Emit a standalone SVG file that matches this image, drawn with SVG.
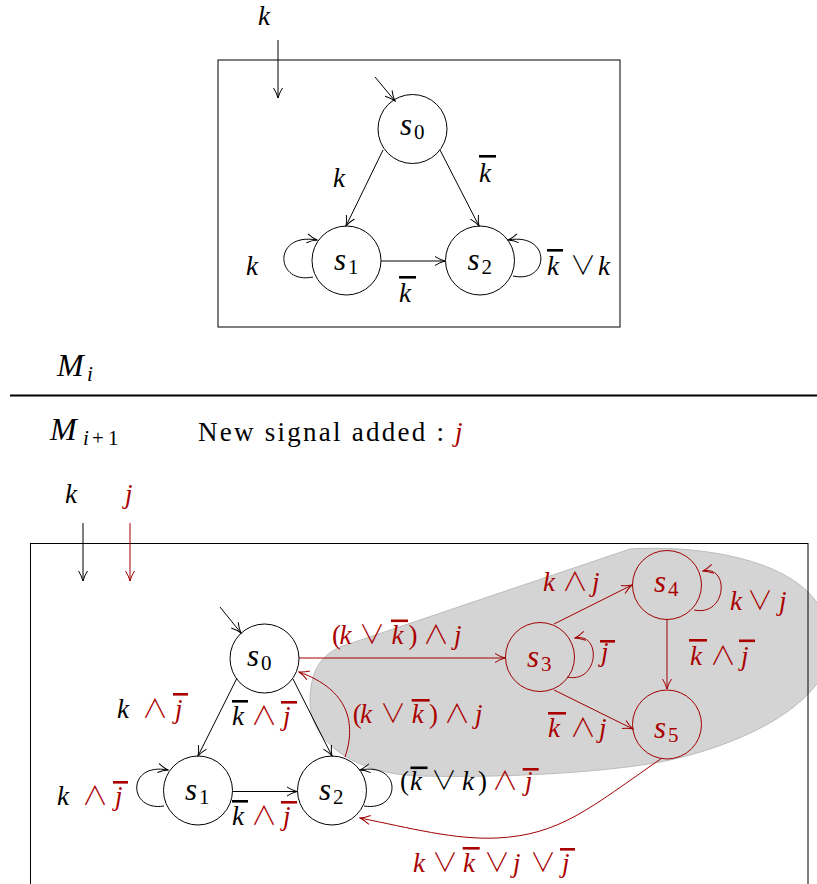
<svg xmlns="http://www.w3.org/2000/svg" width="817" height="884" viewBox="0 0 817 884">
<defs>
<style>
.m{font-family:"Liberation Serif","DejaVu Serif",serif;font-style:italic;font-size:27px}
.up{font-style:normal}
.op{font-family:"Noto Sans CJK JP","DejaVu Sans",sans-serif;font-style:normal;font-weight:300;font-size:26px}
.sub{font-family:"Liberation Serif",serif;font-style:normal;font-size:21px}
.nd{font-family:"Liberation Serif",serif;font-style:italic;font-size:31px}
.rm{font-family:"Liberation Serif",serif;font-size:27px}
.red{fill:#aa0000}
.edge{fill:none;stroke:#000;stroke-width:1}
.redge{fill:none;stroke:#a00000;stroke-width:1}
.node circle{fill:none;stroke:#000;stroke-width:1}
.rnode circle{fill:none;stroke:#a00000;stroke-width:1}
.rnode text{fill:#aa0000}
.bar{fill:#000}
.rbar{fill:#aa0000}
</style>
<marker id="ab" viewBox="-11 -6 12 12" refX="0" refY="0" markerWidth="12" markerHeight="12" markerUnits="userSpaceOnUse" orient="auto"><path d="M-10,-4.5 Q-5,-1.3 0,0 Q-5,1.3 -10,4.5" fill="none" stroke="#000" stroke-width="1"/></marker>
<marker id="ar" viewBox="-11 -6 12 12" refX="0" refY="0" markerWidth="12" markerHeight="12" markerUnits="userSpaceOnUse" orient="auto"><path d="M-10,-4.5 Q-5,-1.3 0,0 Q-5,1.3 -10,4.5" fill="none" stroke="#a00000" stroke-width="1"/></marker>
</defs>
<rect width="817" height="884" fill="#fff"/>

<!-- gray region -->
<path id="region" d="M 630,549 C 690,545 772,556 808,592 C 836,620 840,662 808,694 C 776,728 712,752 660,762 C 600,773 500,778 420,776 C 352,774 310,740 310,702 C 310,672 320,656 340,647 L 630,549 Z" fill="#d4d4d4" stroke="#bcbcbc" stroke-width="1"/>

<!-- frames -->
<rect x="218" y="60" width="402" height="267" fill="none" stroke="#000" stroke-width="1"/>
<line x1="10" y1="395.5" x2="817" y2="395.5" stroke="#000" stroke-width="2"/>
<rect x="30.5" y="543.5" width="777.5" height="400" fill="none" stroke="#000" stroke-width="1"/>

<g id="connectors">
<!-- top -->
<line class="edge" x1="278" y1="40" x2="278" y2="98" marker-end="url(#ab)"/>
<line class="edge" x1="375" y1="77" x2="395" y2="101" marker-end="url(#ab)"/>
<line class="edge" x1="383" y1="150" x2="346" y2="226" marker-end="url(#ab)"/>
<line class="edge" x1="440" y1="150" x2="479" y2="226" marker-end="url(#ab)"/>
<line class="edge" x1="381" y1="261" x2="445" y2="261" marker-end="url(#ab)"/>
<path class="edge" d="M 313,277 C 275,285 272,232 317,240" marker-end="url(#ab)"/>
<path class="edge" d="M 513,276 C 550,284 552,232 508,240" marker-end="url(#ab)"/>
<!-- bottom -->
<line class="edge" x1="83" y1="523" x2="83" y2="581" marker-end="url(#ab)"/>
<line class="redge" x1="130" y1="523" x2="130" y2="581" marker-end="url(#ar)"/>
<line class="edge" x1="220" y1="607" x2="241" y2="633" marker-end="url(#ab)"/>
<line class="edge" x1="237" y1="678" x2="198" y2="756" marker-end="url(#ab)"/>
<line class="edge" x1="293" y1="679" x2="332" y2="756" marker-end="url(#ab)"/>
<line class="edge" x1="233" y1="791.5" x2="297" y2="791.5" marker-end="url(#ab)"/>
<path class="edge" d="M 164,806 C 128,812 126,762 168,770" marker-end="url(#ab)"/>
<path class="edge" d="M 364,806 C 401,812 403,762 360,770" marker-end="url(#ab)"/>
<line class="redge" x1="299" y1="658" x2="505" y2="658" marker-end="url(#ar)"/>
<path class="redge" d="M 345,757 C 356,725 350,690 299,672" marker-end="url(#ar)"/>
<line class="redge" x1="554" y1="624" x2="632" y2="585" marker-end="url(#ar)"/>
<line class="redge" x1="554" y1="690" x2="633" y2="729" marker-end="url(#ar)"/>
<line class="redge" x1="667" y1="619" x2="667" y2="689" marker-end="url(#ar)"/>
<path class="redge" d="M 567,677 C 599,684 602,632 575,638" marker-end="url(#ar)"/>
<path class="redge" d="M 694,610 C 727,617 730,565 703,571" marker-end="url(#ar)"/>
<path class="redge" d="M 662,758 C 590,808 560,835 497,838 C 455,840 410,828 360,818" marker-end="url(#ar)"/>
</g>

<!-- top nodes -->
<g id="top_s0" class="node"><circle cx="412.5" cy="129" r="34.5"/><text class="nd" x="400" y="135">s</text><text class="sub" x="414" y="139">0</text></g>
<g id="top_s1" class="node"><circle cx="346.5" cy="260.5" r="34.5"/><text class="nd" x="334" y="270">s</text><text class="sub" x="348" y="274">1</text></g>
<g id="top_s2" class="node"><circle cx="480" cy="260.5" r="34.5"/><text class="nd" x="467.5" y="270">s</text><text class="sub" x="481.5" y="274">2</text></g>

<!-- bottom nodes -->
<g id="s0" class="node"><circle cx="264.5" cy="658.5" r="34.5"/><text class="nd" x="247" y="666">s</text><text class="sub" x="261" y="670">0</text></g>
<g id="s1" class="node"><circle cx="198" cy="790.5" r="34.5"/><text class="nd" x="185" y="800">s</text><text class="sub" x="199" y="804">1</text></g>
<g id="s2" class="node"><circle cx="332" cy="790.5" r="34.5"/><text class="nd" x="319" y="800">s</text><text class="sub" x="333" y="804">2</text></g>
<g id="s3" class="rnode"><circle cx="540" cy="657" r="34.5"/><text class="nd" x="527" y="667">s</text><text class="sub" x="541" y="671">3</text></g>
<g id="s4" class="rnode"><circle cx="667" cy="585" r="34.5"/><text class="nd" x="654" y="592">s</text><text class="sub" x="668" y="596">4</text></g>
<g id="s5" class="rnode"><circle cx="667" cy="724.5" r="34.5"/><text class="nd" x="654" y="738">s</text><text class="sub" x="668" y="742">5</text></g>

<g id="labels">
<!-- top -->
<text class="m" x="258" y="25">k</text>
<text class="m" x="333" y="187">k</text>
<text class="m" x="479" y="182">k</text><rect class="bar" x="479" y="155" width="17" height="2.6"/>
<text class="m" x="399" y="302">k</text><rect class="bar" x="399" y="276" width="17" height="2.6"/>
<text class="m" x="246" y="275">k</text>
<text class="m" y="275"><tspan x="547">k</tspan><tspan class="op" x="570">∨</tspan><tspan x="598">k</tspan></text><rect class="bar" x="547" y="249" width="16" height="2.6"/>

<!-- middle -->
<text class="m" x="57" y="376" style="font-size:32px">M</text><text class="m" x="87" y="381" style="font-size:21px">i</text>
<text class="m" x="50" y="440" style="font-size:32px">M</text><text class="m" y="445" style="font-size:21px"><tspan x="83">i</tspan><tspan class="up" x="92">+</tspan><tspan class="up" x="108">1</tspan></text>
<text class="rm" x="198" y="441" textLength="246" lengthAdjust="spacing">New signal added :</text>
<text class="m red" x="455" y="441">j</text>

<!-- bottom -->
<text class="m" x="65" y="503">k</text>
<text class="m red" x="125" y="503">j</text>

<text class="m" y="718"><tspan x="117">k</tspan><tspan class="op red" x="142">∧</tspan><tspan class="red" x="175">j</tspan></text><rect class="rbar" x="173" y="693" width="15" height="2.6"/>
<text class="m" y="725"><tspan x="232">k</tspan><tspan class="op red" x="251">∧</tspan><tspan class="red" x="283">j</tspan></text><rect class="bar" x="232" y="700" width="16" height="2.6"/><rect class="rbar" x="281" y="701" width="16" height="2.6"/>
<text class="m" y="805"><tspan x="57">k</tspan><tspan class="op red" x="82">∧</tspan><tspan class="red" x="115">j</tspan></text><rect class="rbar" x="113" y="781" width="15" height="2.6"/>
<text class="m" y="825"><tspan x="232">k</tspan><tspan class="op red" x="251">∧</tspan><tspan class="red" x="283">j</tspan></text><rect class="bar" x="232" y="800" width="16" height="2.6"/><rect class="rbar" x="281" y="801" width="16" height="2.6"/>

<text class="m red" y="644"><tspan class="up" x="332">(</tspan><tspan x="339.5">k</tspan><tspan class="op" x="359">∨</tspan><tspan x="391.5">k</tspan><tspan class="up" x="408.5">)</tspan><tspan class="op" x="423">∧</tspan><tspan x="454">j</tspan></text><rect class="rbar" x="391" y="619.5" width="17" height="2.6"/>
<text class="m red" y="723"><tspan class="up" x="352.7">(</tspan><tspan x="360">k</tspan><tspan class="op" x="380">∨</tspan><tspan x="411.7">k</tspan><tspan class="up" x="429">)</tspan><tspan class="op" x="444">∧</tspan><tspan x="475">j</tspan></text><rect class="rbar" x="411.7" y="699" width="18" height="2.6"/>
<text class="m red" y="591"><tspan x="543">k</tspan><tspan class="op" x="562">∧</tspan><tspan x="592">j</tspan></text>
<text class="m red" y="610"><tspan x="730">k</tspan><tspan class="op" x="747">∨</tspan><tspan x="779">j</tspan></text>
<text class="m red" x="601" y="661">j</text><rect class="rbar" x="600" y="640" width="15" height="2.6"/>
<text class="m red" y="665"><tspan x="690">k</tspan><tspan class="op" x="710">∧</tspan><tspan x="741">j</tspan></text><rect class="rbar" x="689" y="639" width="18" height="2.6"/><rect class="rbar" x="739" y="639.5" width="16" height="2.6"/>
<text class="m red" y="737"><tspan x="548">k</tspan><tspan class="op" x="570">∧</tspan><tspan x="599">j</tspan></text><rect class="rbar" x="548" y="712" width="18" height="2.6"/>
<text class="m" y="790"><tspan class="up" x="400">(</tspan><tspan x="410">k</tspan><tspan class="op" x="431">∨</tspan><tspan x="462">k</tspan><tspan class="up" x="478">)</tspan><tspan class="op red" x="492">∧</tspan><tspan class="red" x="525">j</tspan></text><rect class="bar" x="410.5" y="766.5" width="17" height="2.6"/><rect class="rbar" x="522.7" y="768" width="16" height="2.6"/>
<text class="m red" y="872"><tspan x="413">k</tspan><tspan class="op" x="432">∨</tspan><tspan x="463">k</tspan><tspan class="op" x="484">∨</tspan><tspan x="513">j</tspan><tspan class="op" x="530">∨</tspan><tspan x="562">j</tspan></text><rect class="rbar" x="462.7" y="847" width="17" height="2.6"/><rect class="rbar" x="560" y="848" width="15" height="2.6"/>
</g>
</svg>
